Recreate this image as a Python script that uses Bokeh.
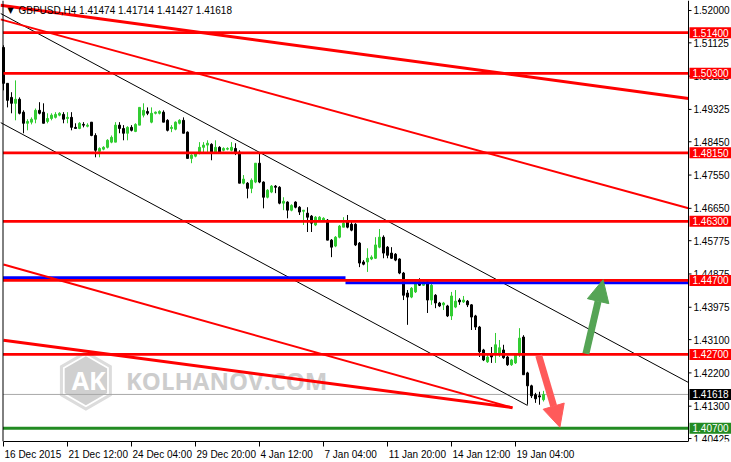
import numpy as np
from bokeh.plotting import figure
from bokeh.models import (Range1d, FixedTicker, Label, Arrow, NormalHead, ColumnDataSource,
                          Span)
from bokeh.core.properties import value
from bokeh.embed import file_html
from bokeh.resources import INLINE

# ---------------- data ----------------
symbol = "GBPUSD,H4"
last_ohlc = [1.41474, 1.41714, 1.41427, 1.41618]

opens = [1.5100,1.5003,1.4965,1.4949,1.4960,1.4925,1.4895,1.4898,1.4906,1.4930,
         1.4925,1.4900,1.4908,1.4911,1.4917,1.4919,1.4908,1.4911,1.4884,1.4881,
         1.4892,1.4887,1.4898,1.4862,1.4819,1.4825,1.4830,1.4844,1.4844,1.4890,
         1.4881,1.4868,1.4884,1.4873,1.4890,1.4917,1.4927,1.4898,1.4922,1.4922,
         1.4925,1.4903,1.4881,1.4879,1.4895,1.4903,1.4871,1.4800,1.4806,1.4814,
         1.4830,1.4836,1.4838,1.4817,1.4830,1.4822,1.4825,1.4822,1.4827,1.4817,
         1.4733,1.4733,1.4719,1.4736,1.4787,1.4736,1.4695,1.4709,1.4725,1.4722,
         1.4679,1.4682,1.4660,1.4682,1.4668,1.4657,1.4652,1.4644,1.4620,1.4633,
         1.4633,1.4633,1.4579,1.4563,1.4587,1.4614,1.4628,1.4622,1.4622,1.4571,
         1.4520,1.4520,1.4528,1.4530,1.4560,1.4587,1.4560,1.4544,1.4541,1.4528,
         1.4490,1.4436,1.4425,1.4439,1.4466,1.4457,1.4466,1.4417,1.4430,1.4409,
         1.4404,1.4401,1.4374,1.4398,1.4417,1.4412,1.4414,1.4404,1.4374,1.4344,
         1.4282,1.4250,1.4269,1.4274,1.4269,1.4282,1.4263,1.4242,1.4247,1.4269,
         1.4317,1.4220,1.4185,1.4161,1.4158,1.41474]
highs = [1.5106,1.5003,1.4979,1.5011,1.4965,1.4930,1.4906,1.4911,1.4935,1.4952,
         1.4949,1.4922,1.4922,1.4925,1.4925,1.4925,1.4925,1.4925,1.4895,1.4898,
         1.4898,1.4895,1.4898,1.4868,1.4830,1.4833,1.4852,1.4862,1.4898,1.4898,
         1.4890,1.4887,1.4890,1.4895,1.4938,1.4949,1.4938,1.4938,1.4927,1.4930,
         1.4930,1.4906,1.4890,1.4900,1.4906,1.4911,1.4873,1.4811,1.4817,1.4844,
         1.4844,1.4849,1.4841,1.4849,1.4833,1.4830,1.4830,1.4844,1.4841,1.4822,
         1.4755,1.4736,1.4746,1.4787,1.4814,1.4738,1.4717,1.4728,1.4728,1.4725,
         1.4695,1.4684,1.4676,1.4684,1.4671,1.4660,1.4668,1.4647,1.4644,1.4644,
         1.4641,1.4636,1.4582,1.4590,1.4620,1.4641,1.4647,1.4628,1.4625,1.4574,
         1.4525,1.4557,1.4538,1.4587,1.4609,1.4592,1.4563,1.4560,1.4544,1.4530,
         1.4493,1.4444,1.4452,1.4468,1.4476,1.4471,1.4471,1.4466,1.4433,1.4412,
         1.4412,1.4404,1.4439,1.4444,1.4422,1.4428,1.4417,1.4406,1.4377,1.4347,
         1.4285,1.4269,1.4290,1.4328,1.4309,1.4296,1.4266,1.4258,1.4271,1.4341,
         1.4322,1.4223,1.4188,1.4166,1.4169,1.41714]
lows = [1.4984,1.4938,1.4922,1.4903,1.4919,1.4868,1.4876,1.4892,1.4895,1.4919,
        1.4895,1.4895,1.4903,1.4908,1.4914,1.4895,1.4895,1.4876,1.4881,1.4879,
        1.4884,1.4884,1.4860,1.4803,1.4803,1.4822,1.4827,1.4841,1.4844,1.4868,
        1.4849,1.4849,1.4873,1.4871,1.4890,1.4911,1.4917,1.4895,1.4919,1.4919,
        1.4898,1.4873,1.4871,1.4876,1.4892,1.4868,1.4800,1.4787,1.4803,1.4811,
        1.4814,1.4817,1.4795,1.4814,1.4814,1.4819,1.4822,1.4819,1.4809,1.4733,
        1.4730,1.4692,1.4706,1.4733,1.4733,1.4665,1.4692,1.4706,1.4706,1.4676,
        1.4660,1.4638,1.4657,1.4665,1.4647,1.4620,1.4601,1.4601,1.4617,1.4630,
        1.4628,1.4579,1.4533,1.4560,1.4584,1.4614,1.4611,1.4603,1.4563,1.4506,
        1.4511,1.4493,1.4525,1.4528,1.4557,1.4530,1.4530,1.4528,1.4522,1.4487,
        1.4417,1.4350,1.4422,1.4436,1.4455,1.4455,1.4382,1.4404,1.4395,1.4398,
        1.4390,1.4371,1.4363,1.4395,1.4404,1.4409,1.4398,1.4336,1.4336,1.4263,
        1.4252,1.4247,1.4247,1.4247,1.4263,1.4258,1.4239,1.4239,1.4244,1.4263,
        1.4215,1.4134,1.4152,1.4139,1.4134,1.41427]
closes = [1.5003,1.4957,1.4949,1.4960,1.4922,1.4895,1.4900,1.4906,1.4930,1.4922,
          1.4895,1.4908,1.4917,1.4919,1.4922,1.4906,1.4911,1.4884,1.4881,1.4895,
          1.4890,1.4890,1.4862,1.4822,1.4827,1.4830,1.4849,1.4857,1.4890,1.4881,
          1.4868,1.4884,1.4876,1.4892,1.4938,1.4930,1.4922,1.4922,1.4925,1.4927,
          1.4898,1.4876,1.4884,1.4898,1.4903,1.4868,1.4800,1.4809,1.4814,1.4830,
          1.4836,1.4841,1.4814,1.4830,1.4814,1.4827,1.4827,1.4830,1.4817,1.4733,
          1.4744,1.4719,1.4741,1.4787,1.4736,1.4695,1.4714,1.4725,1.4722,1.4679,
          1.4684,1.4660,1.4673,1.4668,1.4655,1.4660,1.4641,1.4625,1.4641,1.4641,
          1.4638,1.4579,1.4560,1.4587,1.4617,1.4625,1.4614,1.4606,1.4566,1.4517,
          1.4514,1.4530,1.4533,1.4566,1.4587,1.4544,1.4538,1.4530,1.4525,1.4490,
          1.4430,1.4425,1.4449,1.4466,1.4457,1.4466,1.4417,1.4457,1.4409,1.4401,
          1.4409,1.4374,1.4428,1.4414,1.4412,1.4417,1.4404,1.4371,1.4344,1.4277,
          1.4255,1.4263,1.4263,1.4296,1.4288,1.4261,1.4242,1.4255,1.4269,1.4314,
          1.4215,1.4185,1.4158,1.4150,1.4155,1.41618]

x_tick_idx = [0, 16, 32, 48, 64, 80, 96, 112, 128]
x_tick_labels = ["16 Dec 2015", "21 Dec 12:00", "24 Dec 04:00", "29 Dec 20:00",
                 "4 Jan 12:00", "7 Jan 04:00", "11 Jan 20:00", "14 Jan 12:00",
                 "19 Jan 04:00"]
y_ticks = [1.52000, 1.51125, 1.50225, 1.49325, 1.48450, 1.47550, 1.46650,
           1.45775, 1.44875, 1.43975, 1.43100, 1.42200, 1.41300, 1.40425]

red_levels = [1.51400, 1.50300, 1.48150, 1.46300, 1.44700, 1.42700]
green_level = 1.40700
bid_level = 1.41618

channel_upper_x = [-0.75, 171.25]
channel_upper_y = [1.5192, 1.4194]
channel_lower_x = [-0.75, 131.0]
channel_lower_y = [1.4897, 1.4132]
res_thick_x = [-0.75, 171.25]
res_thick_y = [1.5214, 1.4962]
res_thin_x = [-0.75, 171.25]
res_thin_y = [1.5176, 1.4665]
sup_thin_x = [0.0, 127.25]
sup_thin_y = [1.4513, 1.4126]
sup_thick_x = [0.0, 127.25]
sup_thick_y = [1.4308, 1.4126]
blue_left_x = [-0.125, 85.5]
blue_left_y = [1.4477, 1.4477]
blue_right_x = [85.5, 171.25]
blue_right_y = [1.4464, 1.4464]

up_arrow = [145.6, 1.4272, 149.9, 1.4472]
down_arrow = [133.8, 1.4267, 139.1, 1.4073]

watermark_pos = [20.6, 1.4199]
watermark_ak_pos = [21.3, 1.4200]
watermark_text_pos = [30.6, 1.4199]

# ---------------- layout constants ----------------
W, H = 731, 462
BOTTOM = 21
XL, X1 = -0.125, 171.25          # chart area (left border, right border) in bar units
XR0, XR1 = -0.75, 182.0          # full frame incl. price scale zone
PPB = W / (XR1 - XR0)            # pixels per bar
Y0, Y1 = 1.40345, 1.52270
FONT = "Liberation Sans"

p = figure(width=W, height=H, x_range=Range1d(XR0, XR1), y_range=Range1d(Y0, Y1),
           y_axis_location=None, toolbar_location=None, output_backend="svg",
           min_border_left=0, min_border_top=0, min_border_right=0, min_border_bottom=BOTTOM,
           background_fill_color="white", border_fill_color="white")
p.outline_line_color = None
p.xgrid.visible = False
p.ygrid.visible = False

# bottom axis: minor ticks mark the dates, labels are left-aligned after each tick
CW = {"0": 5.56, "1": 5.56, "2": 5.56, "3": 5.56, "4": 5.56, "5": 5.56, "6": 5.56,
      "7": 5.56, "8": 5.56, "9": 5.56, " ": 2.78, ":": 2.78, "D": 7.22, "e": 5.56,
      "c": 5.0, "J": 5.0, "a": 5.56, "n": 5.56}
def text_w(s):
    return sum(CW.get(ch, 5.56) for ch in s)
lab_pos = [round(t + (text_w(s) / 2 + 1) / PPB, 4) for t, s in zip(x_tick_idx, x_tick_labels)]

xa = p.xaxis[0]
xa.ticker = FixedTicker(ticks=lab_pos, minor_ticks=x_tick_idx)
xa.major_label_overrides = {v: s for v, s in zip(lab_pos, x_tick_labels)}
xa.bounds = (XL, X1)
xa.major_label_text_font = FONT
xa.major_label_text_font_size = "10px"
xa.major_label_text_color = "black"
xa.major_label_standoff = 2
xa.major_tick_in = 0
xa.major_tick_out = 0
xa.major_tick_line_color = None
xa.minor_tick_in = 0
xa.minor_tick_out = 5
xa.minor_tick_line_color = "black"
xa.axis_line_color = "black"

# ---------------- watermark ----------------
p.scatter(x=[watermark_pos[0]], y=[watermark_pos[1]], marker="hex", size=60, angle=np.pi / 2,
          fill_color="#dcdcdc", line_color=None)
p.scatter(x=[watermark_pos[0]], y=[watermark_pos[1]], marker="hex", size=53, angle=np.pi / 2,
          fill_color="white", line_color=None)
p.scatter(x=[watermark_pos[0]], y=[watermark_pos[1]], marker="hex", size=49, angle=np.pi / 2,
          fill_color="#d0d0d0", line_color=None)
p.text(x=[watermark_ak_pos[0]], y=[watermark_ak_pos[1]], text=["AK"], text_align="center",
       text_baseline="middle", text_font=value("Open Sans"), text_font_style="bold",
       text_font_size="25px", text_color="white")
p.text(x=[watermark_text_pos[0]], y=[watermark_text_pos[1]], text=["KOLHANOV.COM"],
       text_align="left", text_baseline="middle", text_font=value("Open Sans"),
       text_font_style="bold", text_font_size="24px", text_color="#cdcdcd")

# bid line
p.segment(x0=[XL], y0=[bid_level], x1=[X1], y1=[bid_level], line_color="#a8a8a8", line_width=1)

# ---------------- candles ----------------
idx = list(range(len(opens)))
colors = ["#32cd32" if c >= o else "black" for o, c in zip(opens, closes)]
src = ColumnDataSource(dict(x=idx, h=highs, l=lows,
                            top=[max(o, c) for o, c in zip(opens, closes)],
                            bot=[min(o, c) for o, c in zip(opens, closes)],
                            col=colors))
p.segment(x0="x", y0="h", x1="x", y1="l", line_color="col", line_width=1, source=src)
p.vbar(x="x", width=0.5, top="top", bottom="bot", fill_color="col", line_color="col",
       line_width=1, source=src)

# ---------------- lines ----------------
p.line(channel_upper_x, channel_upper_y, line_color="black", line_width=1)
p.line(channel_lower_x, channel_lower_y, line_color="black", line_width=1)

p.line(blue_left_x, blue_left_y, line_color="#0000ff", line_width=3)
p.line(blue_right_x, blue_right_y, line_color="#0000ff", line_width=3)

p.segment(x0=[XL] * len(red_levels), y0=red_levels, x1=[X1] * len(red_levels), y1=red_levels,
          line_color="#ff0000", line_width=2.7)
p.segment(x0=[XL], y0=[green_level], x1=[X1], y1=[green_level], line_color="#228b22",
          line_width=3)

p.line(res_thick_x, res_thick_y, line_color="#ff0000", line_width=3)
p.line(res_thin_x, res_thin_y, line_color="#ff0000", line_width=2)
p.line(sup_thin_x, sup_thin_y, line_color="#ff0000", line_width=2)
p.line(sup_thick_x, sup_thick_y, line_color="#ff0000", line_width=3)

# chart borders (left, right)
p.add_layout(Span(location=XL, dimension="height", line_color="black", line_width=1))
p.add_layout(Span(location=X1, dimension="height", line_color="black", line_width=1))

# ---------------- arrows ----------------
p.add_layout(Arrow(x_start=up_arrow[0], y_start=up_arrow[1], x_end=up_arrow[2], y_end=up_arrow[3],
                   line_color="#55a455", line_width=7,
                   end=NormalHead(size=22, fill_color="#55a455", line_color="#55a455")))
p.add_layout(Arrow(x_start=down_arrow[0], y_start=down_arrow[1], x_end=down_arrow[2],
                   y_end=down_arrow[3], line_color="#ff5a5a", line_width=7,
                   end=NormalHead(size=22, fill_color="#ff5a5a", line_color="#ff5a5a")))

# ---------------- price scale (right) ----------------
p.segment(x0=[X1] * len(y_ticks), y0=y_ticks, x1=[X1 + 3 / PPB] * len(y_ticks), y1=y_ticks,
          line_color="black", line_width=1)
p.text(x=[X1] * len(y_ticks), y=y_ticks, text=[f"{v:.5f}" for v in y_ticks], x_offset=5,
       text_align="left", text_baseline="middle", text_font=value(FONT),
       text_font_size="10px", text_color="black")

tag_levels = red_levels + [bid_level, green_level]
tag_colors = ["#ff0000"] * len(red_levels) + ["black", "#228b22"]
tag_center = X1 + (1 + 21) / PPB
p.rect(x=[tag_center] * len(tag_levels), y=tag_levels, width=42, height=11,
       width_units="screen", height_units="screen", fill_color=tag_colors, line_color=None)
p.text(x=[X1] * len(tag_levels), y=tag_levels, text=[f"{v:.5f}" for v in tag_levels],
       x_offset=4, text_align="left", text_baseline="middle", text_font=value(FONT),
       text_font_size="10px", text_color="white")

# ---------------- title ----------------
p.add_layout(Label(x=1.0, y=1.5200, text="▼", text_font="DejaVu Sans",
                   text_font_size="8px", text_baseline="middle", text_color="black"))
p.add_layout(Label(x=3.75, y=1.5200,
                   text=f"{symbol}  " + " ".join(f"{v:.5f}" for v in last_ohlc),
                   text_font=FONT, text_font_size="10px", text_baseline="middle",
                   text_color="black"))

open("out.html", "w").write(file_html(p, INLINE))
